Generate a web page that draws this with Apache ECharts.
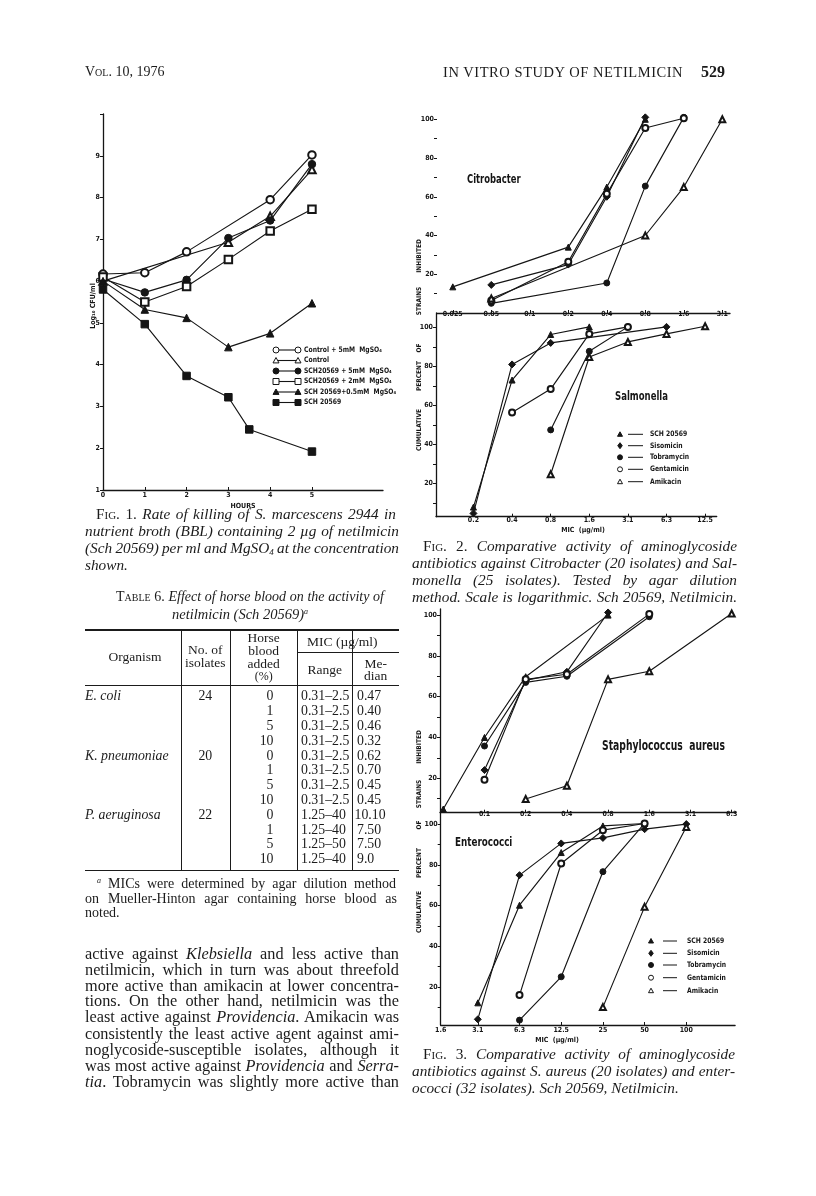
<!DOCTYPE html>
<html><head><meta charset="utf-8">
<script src="https://cdn.jsdelivr.net/npm/echarts@6/dist/echarts.min.js"></script>
<style>
html,body{margin:0;padding:0;background:#fff;}
#page{position:relative;width:816px;height:1196px;overflow:hidden;background:#fff;}
#chart{position:absolute;left:0;top:0;width:816px;height:1196px;}
.t{position:absolute;font-family:"Liberation Serif","Times New Roman",serif;color:#1b1b1b;white-space:nowrap;}
.sc{font-variant:small-caps;font-style:normal;}
.sb{font-size:9px;line-height:0;vertical-align:-2px;}
.sp{font-size:8px;line-height:0;vertical-align:5px;}
.rule{position:absolute;background:#1b1b1b;}
</style></head>
<body><div id="page"><div id="chart"></div></div>
<script>
// ---------------- DATA ----------------
// Fig. 1 : log10 CFU/ml vs hours
const hours = [0, 1, 2, 3, 3.5, 4, 5];
const f1Control5 = [6.17, 6.2, 6.7, null, null, 7.95, 9.02];
const f1Control  = [6.0, null, null, 6.93, null, 7.55, 8.67];
const f1Sch5     = [6.05, 5.73, 6.03, 7.03, null, 7.45, 8.8];
const f1Sch2     = [6.1, 5.5, 5.87, 6.52, null, 7.2, 7.72];
const f1Sch05    = [6.0, 5.32, 5.12, 4.42, null, 4.75, 5.47];
const f1Sch      = [5.8, 4.97, 3.73, 3.22, 2.45, null, 1.92];
const f1Names = ["Control + 5mM  MgSO\u2084", "Control", "SCH20569 + 5mM  MgSO\u2084",
                 "SCH20569 + 2mM  MgSO\u2084", "SCH 20569+0.5mM  MgSO\u2084", "SCH 20569"];
const f1YTicks = [1, 2, 3, 4, 5, 6, 7, 8, 9];
const f1XTicks = [0, 1, 2, 3, 4, 5];

// Figs. 2 and 3 : cumulative percent of strains inhibited vs MIC (doubling dilutions)
const micLadder = ["0.025", "0.05", "0.1", "0.2", "0.4", "0.8", "1.6", "3.1", "6.3", "12.5", "25", "50", "100"];
const drugs = ["SCH 20569", "Sisomicin", "Tobramycin", "Gentamicin", "Amikacin"];
//                  0.025 0.05  0.1   0.2   0.4   0.8   1.6   3.1   6.3   12.5  25    50    100
const citroSch   = [13.5, null, null, 34,   65,   100];
const citroSiso  = [null, 14.5, null, 25,   60,   101];
const citroTobra = [null, 5,    null, null, 15.5, 65.5, 101];
const citroGenta = [null, 6.5,  null, 26.5, 61.5, 95.5, 100.5];
const citroAmik  = [null, 7.5,  null, null, null, 40,   65,   100];

const salmoSch   = [null, null, null, 8,    73,   96.3, 100.2];
const salmoSiso  = [null, null, null, 4.8,  81,   92,   null, null, 100.2];
const salmoTobra = [null, null, null, null, null, 47.5, 87.7, 100.2];
const salmoGenta = [null, null, null, null, 56.4, 68.4, 96.6, 100.2];
const salmoAmik  = [null, null, null, null, null, 24.8, 84.8, 92.5, 96.6, 100.5];

const staphSch   = [null, 4.9,  40,   69.8, null, 100];
const staphSiso  = [null, null, 24,   68,   72.2, 101.3];
const staphTobra = [null, null, 35.8, 67,   70,   null, 99.2];
const staphGenta = [null, null, 19.3, 68.5, 71,   null, 100.5];
const staphAmik  = [null, null, null, 9.8,  16.3, 68.5, 72.5, null, 100.8];

const enteroSch   = [null, null, null, null, null, null, null, 12.1, 60.1, 86,   99.1, 100.3];
const enteroSiso  = [null, null, null, null, null, null, null, 4,    74.9, 90.5, 93.2, 97.5, 100];
const enteroTobra = [null, null, null, null, null, null, null, null, 3.6,  24.9, 76.6, 100.3];
const enteroGenta = [null, null, null, null, null, null, null, null, 15.9, 80.6, 97,   100.3];
const enteroAmik  = [null, null, null, null, null, null, null, null, null, null, 10,   59.3, 98.6];

const pctTicks = [10, 20, 30, 40, 50, 60, 70, 80, 90, 100];
const pctLabels = [20, 40, 60, 80, 100];

// ---------------- STYLE / LAYOUT ----------------
const INK = '#151515';
const FN = '"Liberation Sans Narrow","DejaVu Sans Condensed","Liberation Sans",Arial,sans-serif';

const drugSym = [
  {symbol: 'triangle', size: 6},
  {symbol: 'diamond', size: 7},
  {symbol: 'circle', size: 6},
  {symbol: 'emptyCircle', size: 6},
  {symbol: 'emptyTriangle', size: 6}
];
const f1Sym = [
  {symbol: 'emptyCircle', size: 7.5, kind: 'circle', filled: false},
  {symbol: 'emptyTriangle', size: 7.5, kind: 'triangle', filled: false},
  {symbol: 'circle', size: 7.5, kind: 'circle', filled: true},
  {symbol: 'emptyRect', size: 7.5, kind: 'rect', filled: false},
  {symbol: 'triangle', size: 7.5, kind: 'triangle', filled: true},
  {symbol: 'rect', size: 7.5, kind: 'rect', filled: true}
];

const grids = [
  {left: 103, top: 114, width: 280, height: 376},      // Fig 1
  {left: 437, top: 109.6, width: 293, height: 203.4},  // Fig 2 Citrobacter
  {left: 436, top: 313, width: 280.7, height: 203.7},  // Fig 2 Salmonella
  {left: 440, top: 609, width: 295.8, height: 203.7},  // Fig 3 S. aureus
  {left: 440.7, top: 812.7, width: 294.4, height: 212.3} // Fig 3 Enterococci
];

function tickFont(sz) { return {fontSize: sz, fontWeight: 'bold', fontFamily: FN, color: INK}; }

function ladderX(grid, min, max, labelIdx, margin) {
  return {
    gridIndex: grid, type: 'value', min: min, max: max,
    axisLine: {show: true, onZero: false, lineStyle: {color: INK, width: 1.3}},
    axisTick: {show: true, inside: true, length: 3, customValues: labelIdx, lineStyle: {color: INK}},
    axisLabel: Object.assign({customValues: labelIdx, margin: margin, showMinLabel: true, showMaxLabel: true,
      formatter: v => micLadder[Math.round(v)]}, tickFont(7)),
    splitLine: {show: false}
  };
}
function pctY(grid, min, max, showLine) {
  return {
    gridIndex: grid, type: 'value', min: min, max: max,
    axisLine: {show: showLine, onZero: false, lineStyle: {color: INK, width: 1.3}},
    axisTick: {show: true, inside: false, length: 3, customValues: pctTicks, lineStyle: {color: INK}},
    axisLabel: Object.assign({customValues: pctLabels, margin: 3}, tickFont(7)),
    splitLine: {show: false}
  };
}

const xAxes = [
  {gridIndex: 0, type: 'value', min: 0, max: 6.7,
   axisLine: {onZero: false, lineStyle: {color: INK, width: 1.3}},
   axisTick: {inside: true, length: 3, customValues: f1XTicks, lineStyle: {color: INK}},
   axisLabel: Object.assign({customValues: f1XTicks, margin: 1.5}, tickFont(7)),
   name: 'HOURS', nameLocation: 'middle', nameGap: 12.5,
   nameTextStyle: {fontSize: 7, fontWeight: 'bold', fontFamily: FN, color: INK},
   splitLine: {show: false}},
  ladderX(1, -0.41, 7.2, [0, 1, 2, 3, 4, 5, 6, 7], -2.5),
  ladderX(2, 2.03, 9.3, [3, 4, 5, 6, 7, 8, 9], 0),
  ladderX(3, 0.92, 8.1, [2, 3, 4, 5, 6, 7, 8], -2.5),
  ladderX(4, 6.11, 13.17, [6.11, 7, 8, 9, 10, 11, 12], 1.5)
];

const yAxes = [
  {gridIndex: 0, type: 'value', min: 1, max: 10,
   axisLine: {onZero: false, lineStyle: {color: INK, width: 1.3}},
   axisTick: {inside: false, length: 3, customValues: [1,2,3,4,5,6,7,8,9,10], lineStyle: {color: INK}},
   axisLabel: Object.assign({customValues: f1YTicks, margin: 3}, tickFont(7)),
   splitLine: {show: false}},
  pctY(1, 0, 105, false),
  pctY(2, 3.1, 107.3, true),
  pctY(3, 3.1, 103, true),
  pctY(4, 1.2, 105.6, true)
];

function ladderPts(vals) {
  const out = [];
  vals.forEach((v, i) => { if (v != null) out.push([i, v]); });
  return out;
}
function hourPts(vals) {
  const out = [];
  vals.forEach((v, i) => { if (v != null) out.push([hours[i], v]); });
  return out;
}
function lineSeries(ax, data, sym, name) {
  return {
    type: 'line', name: name, xAxisIndex: ax, yAxisIndex: ax, data: data,
    symbol: sym.symbol, symbolSize: sym.size, showAllSymbol: true,
    lineStyle: {color: INK, width: 1.15},
    itemStyle: {color: INK, borderColor: INK, borderWidth: 1},
    animation: false, silent: true, z: 3
  };
}

const series = [];
[f1Control5, f1Control, f1Sch5, f1Sch2, f1Sch05, f1Sch].forEach((vals, k) =>
  series.push(lineSeries(0, hourPts(vals), f1Sym[k], f1Names[k])));
const panels = [
  [citroSch, citroSiso, citroTobra, citroGenta, citroAmik],
  [salmoSch, salmoSiso, salmoTobra, salmoGenta, salmoAmik],
  [staphSch, staphSiso, staphTobra, staphGenta, staphAmik],
  [enteroSch, enteroSiso, enteroTobra, enteroGenta, enteroAmik]
];
panels.forEach((set, p) => set.forEach((vals, k) =>
  series.push(lineSeries(p + 1, ladderPts(vals), drugSym[k], drugs[k]))));

// ---------------- GRAPHIC (legends, panel labels, axis titles) ----------------
const G = [];
function marker(kind, filled, cx, cy, s) {
  const style = {fill: filled ? INK : '#fff', stroke: INK, lineWidth: 1};
  const h = s / 2;
  if (kind === 'circle') return {type: 'circle', shape: {cx: cx, cy: cy, r: h}, style: style, z: 10};
  if (kind === 'rect') return {type: 'rect', shape: {x: cx - h, y: cy - h, width: s, height: s}, style: style, z: 10};
  if (kind === 'triangle') return {type: 'polygon', shape: {points: [[cx, cy - h], [cx + h, cy + h * 0.8], [cx - h, cy + h * 0.8]]}, style: style, z: 10};
  if (kind === 'diamond') return {type: 'polygon', shape: {points: [[cx, cy - h], [cx + h * 0.75, cy], [cx, cy + h], [cx - h * 0.75, cy]]}, style: style, z: 10};
}
function seg(x1, y1, x2, y2, w) {
  return {type: 'line', shape: {x1: x1, y1: y1, x2: x2, y2: y2}, style: {stroke: INK, lineWidth: w || 1.1}, z: 9};
}
function txt(x, y, s, size, opts) {
  opts = opts || {};
  const st = {text: s, fill: INK, font: 'bold ' + size + 'px ' + FN,
    align: opts.align || 'left', verticalAlign: 'middle', textAlign: opts.align || 'left', textVerticalAlign: 'middle'};
  const el = {type: 'text', x: x, y: y, style: st, z: 11};
  if (opts.rot) el.rotation = opts.rot;
  if (opts.sx) el.scaleX = opts.sx;
  return el;
}

// Fig 1 legend
const f1LegY = [350, 360.5, 371, 381.5, 392, 402.5];
f1Names.forEach((n, k) => {
  const y = f1LegY[k];
  G.push(seg(276, y, 298, y));
  G.push(marker(f1Sym[k].kind, f1Sym[k].filled, 276, y, 6));
  G.push(marker(f1Sym[k].kind, f1Sym[k].filled, 298, y, 6));
  G.push(txt(304, y, n, 7.5, {sx: 0.9}));
});
G.push(txt(93, 306, 'Log\u2081\u2080 CFU/ml', 7, {align: 'center', rot: Math.PI / 2}));

// Fig 2 / Fig 3 legends
const drugKinds = ['triangle', 'diamond', 'circle', 'circle', 'triangle'];
const drugFilled = [true, true, true, false, false];
function drugLegend(mx, lx1, lx2, tx, ys) {
  drugs.forEach((d, k) => {
    G.push(marker(drugKinds[k], drugFilled[k], mx, ys[k], k === 1 ? 6 : 5));
    G.push(seg(lx1, ys[k], lx2, ys[k], 1));
    G.push(txt(tx, ys[k], d, 7.5, {sx: 0.9}));
  });
}
drugLegend(620, 628, 643, 650, [434.3, 445.7, 457.3, 469.3, 481.7]);
drugLegend(651, 663, 677, 687, [941, 953.3, 965, 977.7, 990.7]);

// panel labels
G.push(txt(467, 180, 'Citrobacter', 12, {sx: 0.78}));
G.push(txt(615, 397, 'Salmonella', 12, {sx: 0.79}));
G.push(txt(602, 746, 'Staphylococcus  aureus', 13.5, {sx: 0.76}));
G.push(txt(455, 843, 'Enterococci', 12.5, {sx: 0.78}));

// axis titles
G.push(txt(583, 530, 'MIC  (\u00b5g/ml)', 7, {align: 'center'}));
G.push(txt(557, 1040, 'MIC  (\u00b5g/ml)', 7, {align: 'center'}));
const vt = (y, w) => G.push(txt(419, y, w, 6.5, {align: 'center', rot: Math.PI / 2}));
vt(256, 'INHIBITED'); vt(301, 'STRAINS'); vt(348, 'OF'); vt(376, 'PERCENT'); vt(430, 'CUMULATIVE');
vt(747, 'INHIBITED'); vt(794, 'STRAINS'); vt(825, 'OF'); vt(863, 'PERCENT'); vt(912, 'CUMULATIVE');

const chart = echarts.init(document.getElementById('chart'), null, {renderer: 'canvas', width: 816, height: 1196});
chart.setOption({
  animation: false,
  backgroundColor: 'transparent',
  grid: grids,
  xAxis: xAxes,
  yAxis: yAxes,
  series: series,
  graphic: {elements: G}
});

// ---------------- PAGE TEXT ----------------
const page = document.getElementById('page');
function line(x, yc, html, size, x2, extra) {
  const d = document.createElement('div');
  d.className = 't';
  d.style.left = x + 'px';
  d.style.top = (yc - size * 0.62) + 'px';
  d.style.fontSize = size + 'px';
  d.style.lineHeight = (size * 1.2) + 'px';
  if (extra) Object.assign(d.style, extra);
  d.innerHTML = html;
  page.appendChild(d);
  if (x2) {   // justify the single line between x and x2 via word spacing
    const w = d.getBoundingClientRect().width;
    const text = d.textContent;
    const n = (text.match(/ /g) || []).length;
    let ws = n > 0 ? (x2 - x - w) / n : 0;
    if (ws < -1) {          // too wide: keep word gaps, tighten letters instead
      const rest = (x2 - x - w) + n;
      ws = -1;
      d.style.letterSpacing = (rest / text.length) + 'px';
    }
    if (n > 0) d.style.wordSpacing = ws + 'px';
  }
  return d;
}
function cline(x, w, yc, html, size, align) {
  return line(x, yc, html, size, null, {width: w + 'px', textAlign: align || 'center'});
}
function rule(x, y, w, h) {
  const d = document.createElement('div');
  d.className = 'rule';
  Object.assign(d.style, {left: x + 'px', top: y + 'px', width: w + 'px', height: h + 'px'});
  page.appendChild(d);
}

// running head
line(85, 73, '<span class="sc">Vol.</span> 10, 1976', 14);
line(443, 73, 'IN VITRO STUDY OF NETILMICIN', 14.5, null, {letterSpacing: '0.55px'});
line(701, 72, '<b>529</b>', 16);

// Fig 1 caption
const LL = 85, LR = 399;
const CS = 15.3;
line(96, 514, '<span class="sc">Fig.</span> 1. <i>Rate of killing of S. marcescens 2944 in</i>', CS, 396);
line(LL, 531, '<i>nutrient broth (BBL) containing 2 \u00b5g of netilmicin</i>', CS, LR);
line(LL, 548, '<i>(Sch 20569) per ml and MgSO<span class="sb">4</span> at the concentration</i>', CS, LR);
line(LL, 565, '<i>shown.</i>', CS);

// Table 6
line(116, 598, '<span class="sc">Table</span> 6. <i>Effect of horse blood on the activity of</i>', 14, 384);
cline(140, 200, 615, '<i>netilmicin (Sch 20569)</i><span class="sp"><i>a</i></span>', 14.5);
rule(LL, 629, LR - LL, 2);
rule(297.3, 651.5, LR - 297.3, 1);
rule(LL, 684.5, LR - LL, 1.3);
rule(LL, 869.5, LR - LL, 1.5);
[180.7, 230, 297.3, 352.3].forEach(x => rule(x, 630, 1, 240));
const TS = 13.5;
cline(95, 80, 657, 'Organism', TS);
cline(180.7, 49.3, 650, 'No. of', TS);
cline(180.7, 49.3, 663, 'isolates', TS);
cline(230, 67.3, 638, 'Horse', TS);
cline(230, 67.3, 651, 'blood', TS);
cline(230, 67.3, 664, 'added', TS);
cline(230, 67.3, 676, '(%)', 12);
cline(297.3, 90, 642, 'MIC (\u00b5g/ml)', TS);
cline(297.3, 55, 670, 'Range', TS);
cline(352.3, LR - 352.3, 664, 'Me-', TS);
cline(352.3, LR - 352.3, 676.5, 'dian', TS);
const tOrg = ['E. coli', '', '', '', 'K. pneumoniae', '', '', '', 'P. aeruginosa', '', '', ''];
const tIso = ['24', '', '', '', '20', '', '', '', '22', '', '', ''];
const tBlood = ['0', '1', '5', '10', '0', '1', '5', '10', '0', '1', '5', '10'];
const tRange = ['0.31\u20132.5', '0.31\u20132.5', '0.31\u20132.5', '0.31\u20132.5', '0.31\u20132.5', '0.31\u20132.5',
  '0.31\u20132.5', '0.31\u20132.5', '1.25\u201340', '1.25\u201340', '1.25\u201350', '1.25\u201340'];
const tMed = ['0.47', '0.40', '0.46', '0.32', '0.62', '0.70', '0.45', '0.45', '10.10', '7.50', '7.50', '9.0'];
const TR = 13.8;
tOrg.forEach((o, i) => {
  const y = 697 + i * 14.8;
  if (o) line(LL, y, '<i>' + o + '</i>', TR);
  if (tIso[i]) cline(180.7, 49.3, y, tIso[i], TR);
  cline(230, 43.5, y, tBlood[i], TR, 'right');
  line(301, y, tRange[i], TR);
  line(tMed[i].length > 4 ? 354.5 : 357, y, tMed[i], TR);
});
line(97, 885, '<span class="sp"><i>a</i></span> MICs were determined by agar dilution method', 14, 396);
line(LL, 899.5, 'on Mueller-Hinton agar containing horse blood as', 14, 397);
line(LL, 914, 'noted.', 14);

// body text
const body = [
  'active against <i>Klebsiella</i> and less active than',
  'netilmicin, which in turn was about threefold',
  'more active than amikacin at lower concentra-',
  'tions. On the other hand, netilmicin was the',
  'least active against <i>Providencia</i>. Amikacin was',
  'consistently the least active agent against ami-',
  'noglycoside-susceptible isolates, although it',
  'was most active against <i>Providencia</i> and <i>Serra-</i>',
  '<i>tia</i>. Tobramycin was slightly more active than'
];
const bodyY = [954, 970, 986, 1001.5, 1017.5, 1034, 1050, 1066, 1082];
body.forEach((s, i) => line(LL, bodyY[i], s, 16.3, LR));

// Fig 2 caption
const RL = 412, RR = 737;
line(423, 546.5, '<span class="sc">Fig.</span> 2. <i>Comparative activity of aminoglycoside</i>', CS, RR);
line(RL, 563.5, '<i>antibiotics against Citrobacter (20 isolates) and Sal-</i>', CS, RR);
line(RL, 580.5, '<i>monella (25 isolates). Tested by agar dilution</i>', CS, RR);
line(RL, 597.5, '<i>method. Scale is logarithmic. Sch 20569, Netilmicin.</i>', CS, RR);

// Fig 3 caption
line(423, 1054, '<span class="sc">Fig.</span> 3. <i>Comparative activity of aminoglycoside</i>', CS, 735);
line(RL, 1071, '<i>antibiotics against S. aureus (20 isolates) and enter-</i>', CS, 735);
line(RL, 1088, '<i>ococci (32 isolates). Sch 20569, Netilmicin.</i>', CS);
</script>
</body></html>
